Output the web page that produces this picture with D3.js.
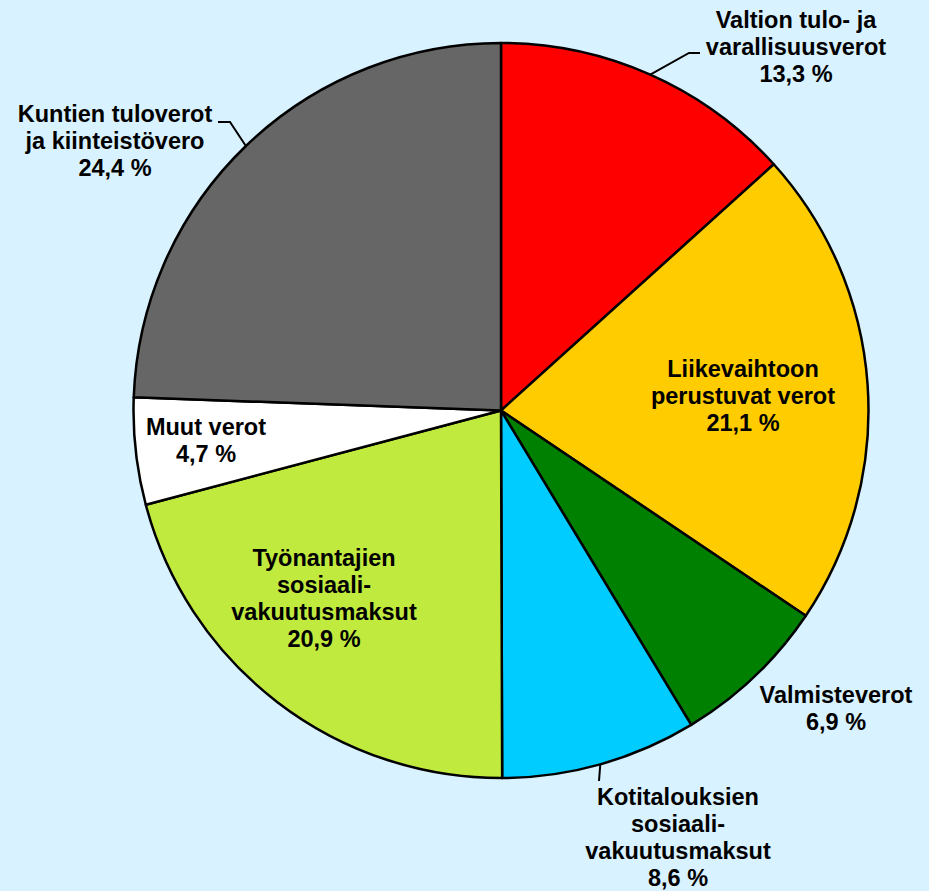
<!DOCTYPE html>
<html>
<head>
<meta charset="utf-8">
<script src="https://cdn.jsdelivr.net/npm/d3@7"></script>
<style>
  body { margin: 0; background: #d9f2ff; }
  svg { display: block; }
  .lbl { font-family: "Liberation Sans", Arial, sans-serif; font-weight: bold; font-size: 23.5px; fill: #000; }
</style>
</head>
<body>
<script>
// data
const categories = [
    "Valtion tulo- ja\nvarallisuusverot",
    "Liikevaihtoon\nperustuvat verot",
    "Valmisteverot",
    "Kotitalouksien\nsosiaali-\nvakuutusmaksut",
    "Työnantajien\nsosiaali-\nvakuutusmaksut",
    "Muut verot",
    "Kuntien tuloverot\nja kiinteistövero"
];
const shares = [13.3, 21.1, 6.9, 8.6, 20.9, 4.7, 24.4];
const colours = ["#ff0000", "#ffcc00", "#008000", "#00ccff", "#c1ea3e", "#ffffff", "#666666"];

// label placement (centre x, first baseline y) and leader elbows
const labelPos = [
    { x: 796, y: 28,  leader: [[689, 53], [700, 53]] },
    { x: 743, y: 377 },
    { x: 836, y: 703 },
    { x: 678, y: 805, leader: [[599, 781]] },
    { x: 324, y: 566 },
    { x: 206, y: 435 },
    { x: 115, y: 122, leader: [[230, 122], [218, 122]] }
];

var width = 929, height = 891;
var cx = 501, cy = 410.5, r = 367.5;
const lineH = 27;

var svg = d3.select('body').append('svg')
    .attr('width', width)
    .attr('height', height)
    .attr('viewBox', [0, 0, width, height]);

const pie = d3.pie()
    .sort(null)
    .value(d => d.v);

const rows = categories.map((c, i) => ({ name: c, v: shares[i], i: i }));
const arcs = pie(rows);

const arc = d3.arc().innerRadius(0).outerRadius(r);
const edge = d3.arc().innerRadius(r).outerRadius(r); // point on rim

const g = svg.append('g')
    .attr('transform', `translate(${cx},${cy})`);

g.selectAll('path.slice')
    .data(arcs)
    .join('path')
    .attr('class', 'slice')
    .attr('d', arc)
    .attr('fill', d => colours[d.data.i])
    .attr('stroke', '#000')
    .attr('stroke-width', 2.5)
    .attr('stroke-linejoin', 'round');

// leader lines
const line = d3.line();
arcs.forEach(d => {
    const lp = labelPos[d.data.i];
    if (!lp.leader) return;
    const p0 = edge.centroid(d);
    const pts = [[cx + p0[0], cy + p0[1]]].concat(lp.leader);
    svg.append('path')
        .attr('d', line(pts))
        .attr('fill', 'none')
        .attr('stroke', '#000')
        .attr('stroke-width', 2);
});

// labels
const fmt = v => d3.format('.1f')(v).replace('.', ',') + ' %';
arcs.forEach(d => {
    const lp = labelPos[d.data.i];
    const lines = d.data.name.split('\n').concat([fmt(d.data.v)]);
    const t = svg.append('text')
        .attr('class', 'lbl')
        .attr('text-anchor', 'middle')
        .attr('x', lp.x)
        .attr('y', lp.y);
    lines.forEach((s, k) => {
        t.append('tspan')
            .attr('x', lp.x)
            .attr('y', lp.y + k * lineH)
            .text(s);
    });
});
</script>
</body>
</html>
